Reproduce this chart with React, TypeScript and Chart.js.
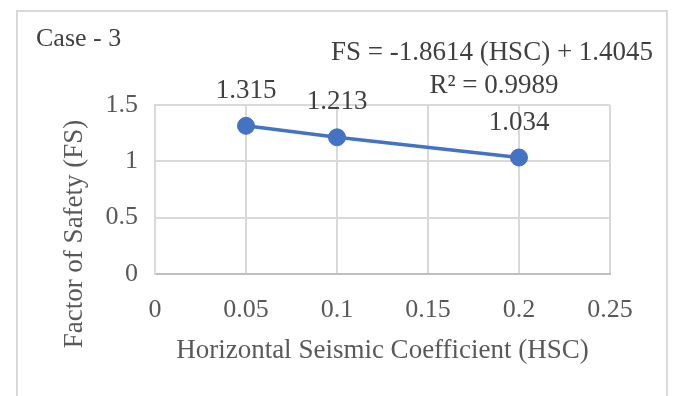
import React, { useEffect, useRef } from "react";
import { Chart, registerables } from "chart.js";

Chart.register(...registerables);

// ---- data ----
const hscValues = [0.05, 0.1, 0.2];
const fsValues = [1.315, 1.213, 1.034];
const xTickLabels = ["0", "0.05", "0.1", "0.15", "0.2", "0.25"];
const yTickLabels = ["0", "0.5", "1", "1.5"];
const caseLabel = "Case - 3";
const equationText = "FS = -1.8614 (HSC) + 1.4045";
const r2Text = "R\u00B2 = 0.9989";
const xTitle = "Horizontal Seismic Coefficient (HSC)";
const yTitle = "Factor of Safety (FS)";

const FONT = '"Liberation Serif", "Times New Roman", serif';
const BLUE = "#4472C4";

const annotPlugin = {
  id: "annot",
  beforeDraw(chart: any) {
    const ctx = chart.ctx;
    ctx.save();
    ctx.fillStyle = "#ffffff";
    ctx.fillRect(0, 0, chart.width, chart.height);
    ctx.strokeStyle = "#d9d9d9";
    ctx.lineWidth = 2;
    ctx.strokeRect(17, 11, 650, 420);
    ctx.restore();
  },
  afterDatasetsDraw(chart: any) {
    const ctx = chart.ctx;
    const meta = chart.getDatasetMeta(0);
    ctx.save();
    ctx.font = `27px ${FONT}`;
    ctx.fillStyle = "#404040";
    ctx.textAlign = "center";
    ctx.textBaseline = "middle";
    meta.data.forEach((pt: any, i: number) => {
      ctx.fillText(fsValues[i].toFixed(3), pt.x, pt.y - 35);
    });
    ctx.restore();
  },
  afterDraw(chart: any) {
    const ctx = chart.ctx;
    ctx.save();
    ctx.textBaseline = "middle";
    ctx.fillStyle = "#404040";
    ctx.font = `26px ${FONT}`;
    ctx.textAlign = "left";
    ctx.fillText(caseLabel, 36, 39);
    ctx.font = `27px ${FONT}`;
    ctx.textAlign = "center";
    ctx.fillText(equationText, 492, 53);
    ctx.fillText(r2Text, 494, 86);
    // y axis title
    ctx.fillStyle = "#595959";
    ctx.font = `27px ${FONT}`;
    ctx.translate(75, 234);
    ctx.rotate(-Math.PI / 2);
    ctx.fillText(yTitle, 0, 0);
    ctx.restore();
  },
};

export default function App() {
  const ref = useRef<HTMLCanvasElement | null>(null);
  useEffect(() => {
    document.body.style.margin = "0";
    const canvas = ref.current!;
    const chart = new Chart(canvas, {
      type: "scatter",
      data: {
        datasets: [
          {
            data: hscValues.map((x, i) => ({ x, y: fsValues[i] })),
            showLine: true,
            borderColor: BLUE,
            backgroundColor: BLUE,
            borderWidth: 3.5,
            pointRadius: 8.5,
            pointBorderWidth: 1,
            pointBackgroundColor: BLUE,
            pointBorderColor: BLUE,
          },
        ],
      },
      options: {
        animation: false,
        responsive: false,
        devicePixelRatio: 1,
        layout: { padding: { left: 0, top: 105, right: 68, bottom: 0 } },
        plugins: {
          legend: { display: false },
          tooltip: { enabled: false },
          title: { display: false },
        },
        scales: {
          x: {
            type: "linear",
            min: 0,
            max: 0.25,
            afterFit: (s: any) => {
              s.height = 122;
            },
            ticks: {
              stepSize: 0.05,
              padding: 21,
              color: "#595959",
              font: { family: FONT, size: 26 },
              callback: (_v: any, i: number) => xTickLabels[i],
              maxRotation: 0,
              autoSkip: false,
            },
            grid: { color: "#d9d9d9", lineWidth: 2, drawTicks: false },
            border: { color: "#bfbfbf", width: 2 },
            title: {
              display: true,
              text: xTitle,
              color: "#595959",
              font: { family: FONT, size: 27 },
              padding: { top: 0, bottom: 29 },
            },
          },
          y: {
            type: "linear",
            min: 0,
            max: 1.5,
            afterFit: (s: any) => {
              s.width = 155;
            },
            ticks: {
              stepSize: 0.5,
              padding: 17,
              color: "#595959",
              font: { family: FONT, size: 26 },
              callback: (_v: any, i: number) => yTickLabels[i],
            },
            grid: { color: "#d9d9d9", lineWidth: 2, drawTicks: false },
            border: { color: "#d9d9d9", width: 2 },
          },
        },
      },
      plugins: [annotPlugin],
    });
    return () => chart.destroy();
  }, []);
  return (
    <canvas
      ref={ref}
      width={678}
      height={396}
      style={{ display: "block", width: 678, height: 396 }}
    />
  );
}
